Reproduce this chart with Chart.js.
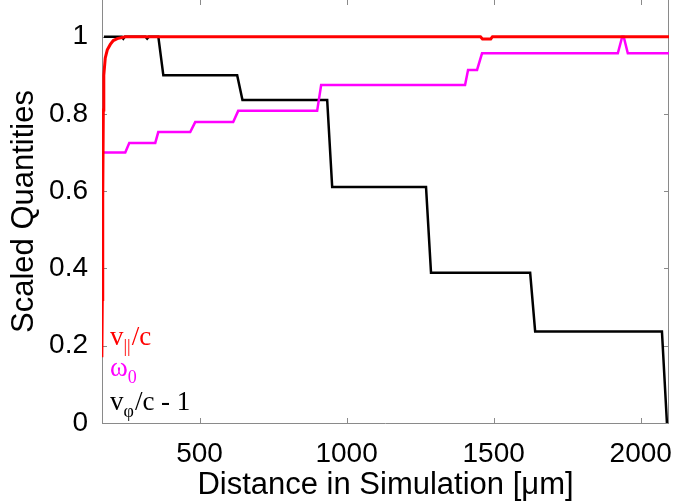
<!DOCTYPE html>
<html>
<head>
<meta charset="utf-8">
<script src="https://cdn.jsdelivr.net/npm/chart.js@4.4.1/dist/chart.umd.min.js"></script>
<style>
    html, body { margin: 0; padding: 0; background: #fff; }
</style>
</head>
<body>
<canvas id="scaled-chart" width="675" height="503"></canvas>
<script>
// v_par / c (red)
var vParX = [168, 169.5, 171, 173, 174.6, 179.6, 186.5, 196.7, 206.9, 220.5, 247.6, 1455, 1462, 1490, 1496, 2100]
var vParY = [0.17, 0.32, 0.58, 0.81, 0.90, 0.945, 0.966, 0.98, 0.99, 0.995, 1, 1, 0.994, 0.994, 1, 1]

// omega_0 (magenta)
var omegaX = [169, 247.6, 261.2, 349.6, 359.8, 468.5, 485.4, 614.5, 631.5, 899.9, 913.5, 1402.7, 1412.9, 1443.5, 1460.4, 1922, 1937, 1942, 1956, 2100]
var omegaY = [0.70, 0.70, 0.725, 0.725, 0.753, 0.753, 0.779, 0.779, 0.808, 0.808, 0.875, 0.875, 0.914, 0.914, 0.957, 0.957, 1.0, 1.0, 0.957, 0.957]

// v_phi / c - 1 (black)
var vPhX = [175, 236, 241, 246, 316, 322, 328, 360, 377, 628, 646, 934, 951, 1270, 1287, 1624, 1641, 2072, 2089]
var vPhY = [1, 1, 0.995, 1, 1, 0.995, 1, 1, 0.9, 0.9, 0.836, 0.836, 0.611, 0.611, 0.389, 0.389, 0.237, 0.237, 0]

var xTicks = [500, 1000, 1500, 2000]
var yTicks = [0, 0.2, 0.4, 0.6, 0.8, 1]

function points(xs, ys) {
    return xs.map(function(x, i) { return {x: x, y: ys[i]} })
}

// box with inward tick marks, like the original figure
var framePlugin = {
    id: 'frame',
    beforeDatasetsDraw: function(chart) {
        var ctx = chart.ctx, a = chart.chartArea
        var sx = chart.scales.x, sy = chart.scales.y
        ctx.save()
        ctx.strokeStyle = '#8a8a8a'
        ctx.lineWidth = 1
        ctx.beginPath()
        ctx.moveTo(a.left + 0.5, a.top)
        ctx.lineTo(a.left + 0.5, a.bottom + 0.5)
        ctx.lineTo(a.right - 0.5, a.bottom + 0.5)
        ctx.lineTo(a.right - 0.5, a.top)
        xTicks.forEach(function(v) {
            var px = Math.round(sx.getPixelForValue(v)) + 0.5
            ctx.moveTo(px, a.bottom); ctx.lineTo(px, a.bottom - 5)
            ctx.moveTo(px, a.top); ctx.lineTo(px, a.top + 5)
        })
        yTicks.forEach(function(v) {
            var py = Math.round(sy.getPixelForValue(v)) + 0.5
            ctx.moveTo(a.left, py); ctx.lineTo(a.left + 5, py)
            ctx.moveTo(a.right, py); ctx.lineTo(a.right - 5, py)
        })
        ctx.stroke()
        ctx.restore()
    },
    afterDraw: function(chart) {
        var ctx = chart.ctx
        function label(x, y, main, sub, rest, color) {
            ctx.fillStyle = color
            ctx.textBaseline = 'alphabetic'
            ctx.textAlign = 'left'
            ctx.font = '27px "Liberation Serif"'
            ctx.fillText(main, x, y)
            x += ctx.measureText(main).width
            ctx.font = '18px "Liberation Serif"'
            ctx.fillText(sub, x, y + 7)
            x += ctx.measureText(sub).width + 1
            ctx.font = '27px "Liberation Serif"'
            ctx.fillText(rest, x, y)
        }
        ctx.save()
        label(110, 345, 'v', '||', '/c', '#ff0000')
        label(110, 376, 'ω', '0', '', '#ff00ff')
        label(110, 410, 'v', 'φ', '/c - 1', '#000000')
        ctx.restore()
    }
}

function plainTick(value) {
    return String(value)
}

Chart.defaults.color = '#000'
Chart.defaults.font.family = '"Liberation Sans", Arial, sans-serif'

var ctx = document.getElementById('scaled-chart').getContext('2d')
var scaledChart = new Chart(ctx, {
    type: 'line',
    data: {
        datasets: [{
            label: 'v||/c',
            data: points(vParX, vParY),
            borderColor: '#ff0000',
            borderWidth: 3
        }, {
            label: 'ω0',
            data: points(omegaX, omegaY),
            borderColor: '#ff00ff',
            borderWidth: 2.5
        }, {
            label: 'vφ/c - 1',
            data: points(vPhX, vPhY),
            borderColor: '#000000',
            borderWidth: 2.5
        }]
    },
    options: {
        responsive: false,
        animation: false,
        elements: {
            point: { radius: 0 },
            line: { tension: 0 }
        },
        layout: { padding: { left: 0, right: 6, top: 0, bottom: 0 } },
        plugins: {
            legend: { display: false },
            tooltip: { enabled: false }
        },
        scales: {
            x: {
                type: 'linear',
                min: 168.5,
                max: 2096,
                grid: { display: false },
                border: { display: false },
                ticks: { font: { size: 28 }, padding: 6.5, maxRotation: 0, callback: plainTick },
                title: {
                    display: true,
                    text: 'Distance in Simulation [μm]',
                    font: { size: 31, lineHeight: 1.1 },
                    padding: { top: 0, bottom: 0 }
                },
                afterBuildTicks: function(scale) {
                    scale.ticks = xTicks.map(function(v) { return {value: v} })
                },
                afterFit: function(scale) {
                    scale.height = 80
                    scale.paddingLeft = 0
                    scale.paddingRight = 0
                }
            },
            y: {
                type: 'linear',
                min: 0,
                max: 1.095,
                grid: { display: false },
                border: { display: false },
                ticks: { font: { size: 28 }, padding: 6, callback: plainTick },
                title: {
                    display: true,
                    text: 'Scaled Quantities',
                    font: { size: 31, lineHeight: 1.1 },
                    padding: { top: 7, bottom: 0 }
                },
                afterBuildTicks: function(scale) {
                    scale.ticks = yTicks.map(function(v) { return {value: v} })
                },
                afterFit: function(scale) {
                    scale.width = 102
                    scale.paddingTop = 0
                    scale.paddingBottom = 0
                }
            }
        }
    },
    plugins: [framePlugin]
})
</script>
</body>
</html>
